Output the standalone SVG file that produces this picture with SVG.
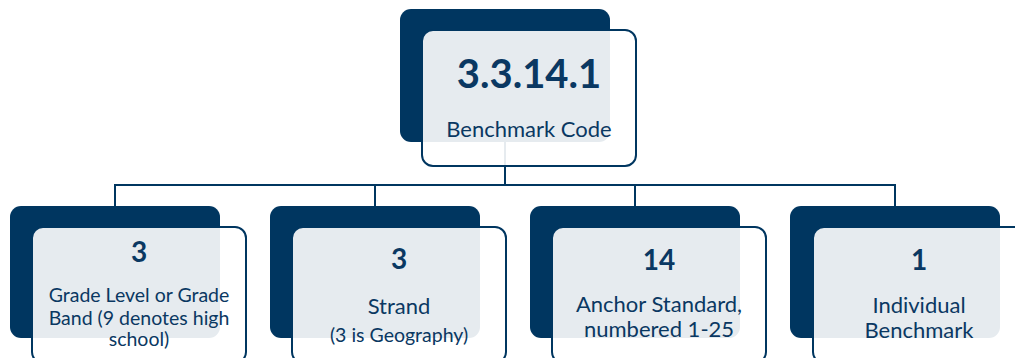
<svg xmlns="http://www.w3.org/2000/svg" width="1015" height="358" viewBox="0 0 1015 358">
<style>
.back{fill:#003660}
.front{fill:#ffffff;fill-opacity:0.9;stroke:#003660;stroke-width:2}
.conn{fill:none;stroke:#003660;stroke-width:2}
text{font-family:Lato,"Liberation Sans",sans-serif;fill:#0a3862;text-anchor:middle}
.num{font-weight:bold}
</style>
<rect width="1015" height="358" fill="#ffffff"/>
<g id="connectors">
<path class="conn" d="M505,142 V185 M115,206 V185 H895 V206 M375,185 V206 M635,185 V206"/>
</g>
<g id="node-top">
<rect class="back" x="400" y="9" width="210" height="133" rx="11"/>
<rect class="front" x="422" y="30" width="214" height="136" rx="11"/>
<text class="num" x="529" y="88" font-size="40">3.3.14.1</text>
<text x="529" y="137" font-size="22">Benchmark Code</text>
</g>
<g id="node-grade">
<rect class="back" x="10" y="206" width="210" height="132" rx="11"/>
<rect class="front" x="32" y="227" width="214" height="136" rx="11"/>
<text class="num" x="139" y="262" font-size="28">3</text>
<text x="139" y="302" font-size="19.5">Grade Level or Grade</text>
<text x="139" y="325" font-size="19.5">Band (9 denotes high</text>
<text x="139" y="346" font-size="19.5">school)</text>
</g>
<g id="node-strand">
<rect class="back" x="270" y="206" width="210" height="132" rx="11"/>
<rect class="front" x="292" y="227" width="214" height="136" rx="11"/>
<text class="num" x="399" y="269" font-size="28">3</text>
<text x="399" y="314" font-size="22">Strand</text>
<text x="399" y="342" font-size="19.5">(3 is Geography)</text>
</g>
<g id="node-anchor">
<rect class="back" x="530" y="206" width="210" height="132" rx="11"/>
<rect class="front" x="552" y="227" width="214" height="136" rx="11"/>
<text class="num" x="659" y="270" font-size="28">14</text>
<text x="659" y="312" font-size="22">Anchor Standard,</text>
<text x="659" y="337" font-size="22">numbered 1-25</text>
</g>
<g id="node-benchmark">
<rect class="back" x="790" y="206" width="210" height="132" rx="11"/>
<rect class="front" x="813" y="227" width="214" height="136" rx="11"/>
<text class="num" x="919" y="270" font-size="28">1</text>
<text x="919" y="313" font-size="22">Individual</text>
<text x="919" y="338" font-size="22">Benchmark</text>
</g>
</svg>
